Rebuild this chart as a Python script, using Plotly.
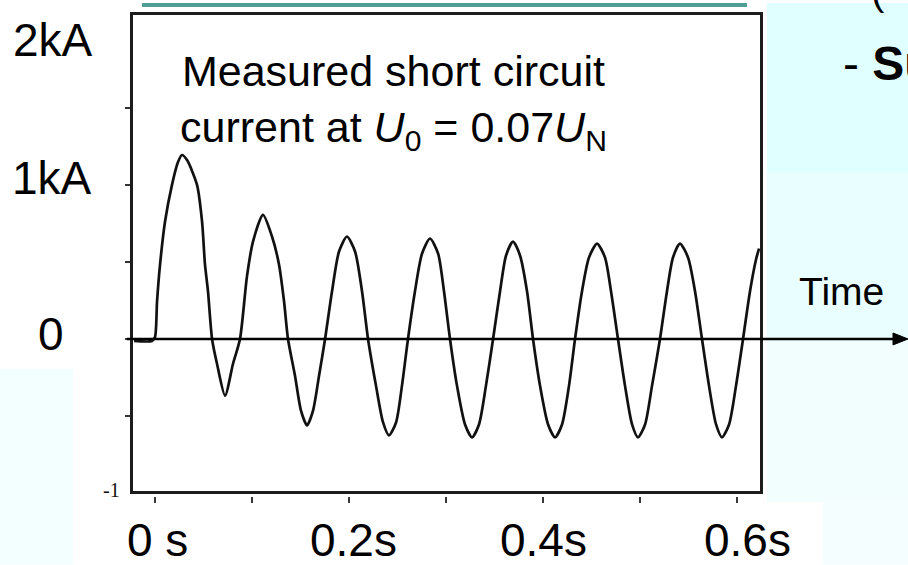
import plotly.graph_objects as go

# ---- data (time in s, current in kA) ----
time_s = [-0.0216, -0.0031, 0.0000, 0.0021, 0.0052, 0.0103, 0.0175, 0.0237, 0.0278, 0.0330,
          0.0433, 0.0485, 0.0515, 0.0546, 0.0588, 0.0639, 0.0722, 0.0804, 0.0876,
          0.0948, 0.1010, 0.1113, 0.1206, 0.1278, 0.1330, 0.1371,
          0.1443, 0.1505, 0.1567, 0.1629, 0.1691, 0.1753,
          0.1825, 0.1897, 0.1979, 0.2062, 0.2134, 0.2196,
          0.2278, 0.2351, 0.2412, 0.2485, 0.2546, 0.2608,
          0.2680, 0.2753, 0.2835, 0.2918, 0.2979, 0.3041,
          0.3113, 0.3196, 0.3268, 0.3340, 0.3412, 0.3485,
          0.3557, 0.3619, 0.3691, 0.3763, 0.3835, 0.3897,
          0.3969, 0.4052, 0.4124, 0.4196, 0.4268, 0.4330,
          0.4402, 0.4474, 0.4557, 0.4639, 0.4701, 0.4773,
          0.4845, 0.4918, 0.4979, 0.5052, 0.5124, 0.5206,
          0.5278, 0.5340, 0.5412, 0.5495, 0.5567, 0.5639,
          0.5711, 0.5784, 0.5845, 0.5918, 0.5990, 0.6062,
          0.6134, 0.6196, 0.6227]
current_kA = [-0.013, -0.013, 0.013, 0.245, 0.484, 0.761, 1.000, 1.148, 1.194, 1.161,
              1.000, 0.761, 0.484, 0.310, 0.000, -0.161, -0.368, -0.161, 0.000,
              0.406, 0.632, 0.806, 0.665, 0.484, 0.245, 0.000,
              -0.239, -0.465, -0.561, -0.465, -0.239, 0.000,
              0.310, 0.568, 0.665, 0.568, 0.310, 0.000,
              -0.303, -0.542, -0.626, -0.542, -0.303, 0.000,
              0.310, 0.555, 0.652, 0.555, 0.310, 0.000,
              -0.303, -0.555, -0.639, -0.555, -0.303, 0.000,
              0.310, 0.542, 0.632, 0.542, 0.310, 0.000,
              -0.303, -0.555, -0.639, -0.555, -0.303, 0.000,
              0.310, 0.529, 0.619, 0.529, 0.310, 0.000,
              -0.303, -0.555, -0.639, -0.555, -0.303, 0.000,
              0.310, 0.529, 0.619, 0.529, 0.310, 0.000,
              -0.303, -0.555, -0.639, -0.555, -0.303, 0.000,
              0.310, 0.516, 0.587]

x_minor_ticks = [0.0, 0.1, 0.2, 0.3, 0.4, 0.5, 0.6]
y_minor_ticks = [-0.5, 0.0, 0.5, 1.0, 1.5]
x_label_vals = [0.0, 0.2, 0.4, 0.6]
x_label_text = ["0 s", "0.2s", "0.4s", "0.6s"]
y_label_vals = [0, 1, 2]
y_label_text = ["0", "1kA", "2kA"]

# ---- layout geometry ----
W, H = 908, 565
L, R, T, B = 133, 148, 12, 74
PW, PH = W - L - R, H - T - B
X_RANGE = [-0.0227, 0.6237]
Y_RANGE = [-0.987, 2.103]

def px_x(p):
    return (p - L) / PW

def px_y(p):
    return (H - B - p) / PH

FONT = "Liberation Sans, Arial, sans-serif"

fig = go.Figure()

fig.add_trace(go.Scatter(
    x=time_s, y=current_kA, mode="lines",
    line=dict(color="#111111", width=2.7, shape="spline", smoothing=0.7),
    hoverinfo="skip", showlegend=False))

shapes = []
# slide background pieces
shapes.append(dict(type="rect", xref="paper", yref="paper", x0=px_x(767), x1=px_x(W), y0=px_y(170), y1=px_y(0),
                   fillcolor="#e0ffff", line=dict(width=0), layer="below"))
shapes.append(dict(type="rect", xref="paper", yref="paper", x0=px_x(767), x1=px_x(W), y0=px_y(340), y1=px_y(170),
                   fillcolor="#e9ffff", line=dict(width=0), layer="below"))
shapes.append(dict(type="rect", xref="paper", yref="paper", x0=px_x(767), x1=px_x(W), y0=px_y(502), y1=px_y(340),
                   fillcolor="#f2fefe", line=dict(width=0), layer="below"))
shapes.append(dict(type="rect", xref="paper", yref="paper", x0=px_x(823), x1=px_x(W), y0=px_y(H), y1=px_y(502),
                   fillcolor="#f4fefe", line=dict(width=0), layer="below"))
shapes.append(dict(type="rect", xref="paper", yref="paper", x0=px_x(0), x1=px_x(73), y0=px_y(H), y1=px_y(368),
                   fillcolor="#f3fefe", line=dict(width=0), layer="below"))
shapes.append(dict(type="rect", xref="paper", yref="paper", x0=px_x(142), x1=px_x(747), y0=px_y(4), y1=px_y(0),
                   fillcolor="#4f9f97", line=dict(width=0), layer="below"))

# detached small x tick marks of the scanned plot
for v in x_minor_ticks:
    shapes.append(dict(type="line", xref="x", yref="paper", x0=v, x1=v, y0=px_y(503), y1=px_y(497),
                       line=dict(color="#222222", width=1.8), layer="above"))

# time axis with arrow
zero_p = (0 - Y_RANGE[0]) / (Y_RANGE[1] - Y_RANGE[0])
ah = 6 / PH
shapes.append(dict(type="line", xref="paper", yref="paper", x0=px_x(127), x1=px_x(896), y0=zero_p, y1=zero_p,
                   line=dict(color="#000000", width=2.5), layer="above"))
shapes.append(dict(type="path", xref="paper", yref="paper",
                   path=f"M {px_x(893)} {zero_p + ah} L {px_x(908)} {zero_p} L {px_x(893)} {zero_p - ah} Z",
                   fillcolor="#000000", line=dict(color="#000000", width=1), layer="above"))

annotations = []
x_label_shift = [2, 4, 0, 10]
for v, t, s in zip(x_label_vals, x_label_text, x_label_shift):
    annotations.append(dict(x=v, y=px_y(540), xref="x", yref="paper", text=t, showarrow=False,
                            xanchor="center", yanchor="middle", xshift=s,
                            font=dict(family=FONT, size=46, color="#000000")))
y_label_shift = [5, 7, -9]
y_label_x = [51, 52, 53]
for v, t, s, xp in zip(y_label_vals, y_label_text, y_label_shift, y_label_x):
    annotations.append(dict(x=px_x(xp), y=v, xref="paper", yref="y", text=t, showarrow=False,
                            xanchor="center", yanchor="middle", yshift=s,
                            font=dict(family=FONT, size=46, color="#000000")))

annotations.append(dict(x=px_x(111), y=px_y(490), xref="paper", yref="paper", text="-1", showarrow=False,
                        xanchor="center", yanchor="middle",
                        font=dict(family="Liberation Serif, Times New Roman, serif", size=20, color="#111111")))

annotations.append(dict(x=px_x(393), y=px_y(42), xref="paper", yref="paper",
                        text="Measured short circuit<br>current at <i>U</i><sub>0</sub> = 0.07<i>U</i><sub>N</sub>",
                        showarrow=False, xanchor="center", yanchor="top", align="center",
                        font=dict(family=FONT, size=43, color="#000000")))

annotations.append(dict(x=px_x(797), y=px_y(290), xref="paper", yref="paper", text="Time",
                        showarrow=False, xanchor="left", yanchor="middle",
                        font=dict(family=FONT, size=39, color="#000000")))

annotations.append(dict(x=px_x(841), y=px_y(61), xref="paper", yref="paper", text="- <b>Su</b>",
                        showarrow=False, xanchor="left", yanchor="middle",
                        font=dict(family=FONT, size=48, color="#000000")))
annotations.append(dict(x=px_x(878), y=px_y(-12), xref="paper", yref="paper", text="(",
                        showarrow=False, xanchor="center", yanchor="middle",
                        font=dict(family=FONT, size=40, color="#000000")))

fig.update_layout(
    width=W, height=H,
    margin=dict(l=L, r=R, t=T, b=B, pad=0),
    paper_bgcolor="#ffffff", plot_bgcolor="#ffffff",
    shapes=shapes, annotations=annotations,
    showlegend=False,
    xaxis=dict(range=X_RANGE, showgrid=False, zeroline=False, showticklabels=False, ticks="",
               showline=True, mirror=True, linewidth=3, linecolor="#1c1c1c", fixedrange=True),
    yaxis=dict(range=Y_RANGE, showgrid=False, zeroline=False, showticklabels=False,
               tickmode="array", tickvals=y_minor_ticks, ticks="outside", ticklen=5, tickwidth=1.5,
               tickcolor="#333333",
               showline=True, mirror=True, linewidth=3, linecolor="#1c1c1c", fixedrange=True),
)

fig.write_html("out.html", config={"displayModeBar": False},
               post_script="document.body.style.margin='0px';document.body.style.overflow='hidden';")
